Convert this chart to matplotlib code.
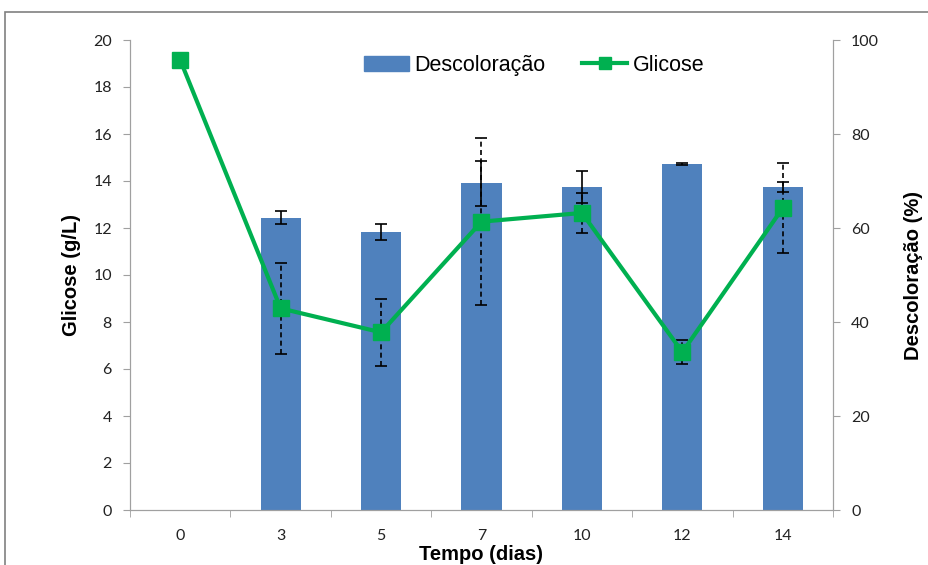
import numpy as np
import matplotlib.pyplot as plt
from matplotlib.patches import Rectangle
from matplotlib.lines import Line2D
from matplotlib.patches import Patch

dias = ["0", "3", "5", "7", "10", "12", "14"]
# Descoloração (%) - barras, eixo direito
descoloracao = [np.nan, 62.2, 59.2, 69.5, 68.7, 73.6, 68.7]
descoloracao_err = [0, 1.35, 1.7, 4.75, 3.4, 0.15, 1.05]
# Glicose (g/L) - linha, eixo esquerdo
glicose = [19.15, 8.58, 7.56, 12.27, 12.64, 6.72, 12.85]
glicose_err = [0, 1.94, 1.42, 3.55, 0.87, 0.52, 1.9]

blue = "#4f81bd"
green = "#00b050"
gray = "#a0a0a0"

fig = plt.figure(figsize=(9.29, 5.65), dpi=100)
ax = fig.add_axes([130 / 929, 1 - 510 / 565, 703 / 929, 470 / 565])
ax2 = ax.twinx()

x = np.arange(len(dias))

# barras
ax2.bar(x, descoloracao, width=0.4, color=blue, zorder=1)
ax2.errorbar(x[1:], descoloracao[1:], yerr=descoloracao_err[1:], fmt="none",
             ecolor="black", elinewidth=1.2, capsize=4, capthick=1.2, zorder=5)
ax2.set_ylim(0, 100)
ax2.set_yticks(range(0, 101, 20))

# linha
ax.set_zorder(ax2.get_zorder() + 1)
ax.patch.set_visible(False)
eb = ax.errorbar(x[1:], glicose[1:], yerr=glicose_err[1:], fmt="none",
                 ecolor="black", elinewidth=1.2, capsize=4, capthick=1.2, zorder=2)
for c in eb[2]:
    c.set_linestyle((0, (3, 2)))
ax.plot(x, glicose, color=green, lw=3, marker="s", ms=11, zorder=3)
ax.set_ylim(0, 20)
ax.set_yticks(range(0, 21, 2))
ax.set_xlim(-0.5, len(dias) - 0.5)
ax.set_xticks(x)
ax.set_xticklabels(dias)
ax.set_xticks(np.arange(-0.5, len(dias), 1), minor=True)
ax.tick_params(axis="x", which="major", length=0, pad=14)
ax.tick_params(axis="x", which="minor", length=5, color=gray, direction="out")

for a in (ax, ax2):
    for s in a.spines.values():
        s.set_color(gray)
    a.spines["top"].set_visible(False)
ax.tick_params(axis="y", length=5, color=gray, direction="out", pad=8)
ax2.tick_params(axis="y", length=5, color=gray, direction="out", pad=8)

for lab in ax.get_xticklabels() + ax.get_yticklabels() + ax2.get_yticklabels():
    lab.set_fontfamily("Lato")
    lab.set_fontsize(11.5)
    lab.set_color("#222222")

ax.set_xlabel("Tempo (dias)", fontsize=14.5, fontweight="bold",
              fontfamily="Liberation Sans", labelpad=1)
ax.set_ylabel("Glicose (g/L)", fontsize=14.5, fontweight="bold",
              fontfamily="Liberation Sans", labelpad=9)
ax2.set_ylabel("Descoloração (%)", fontsize=14.5, fontweight="bold",
               fontfamily="Liberation Sans", labelpad=18)

handles = [Patch(color=blue, label="Descoloração"),
           Line2D([], [], color=green, lw=3, marker="s", ms=8, label="Glicose")]
ax.legend(handles=handles, loc="upper center", bbox_to_anchor=(0.575, 1.01),
          ncol=2, frameon=False, handlelength=2.1, handletextpad=0.25,
          columnspacing=1.7, prop={"family": "Liberation Sans", "size": 15.5})

fig.patches.append(Rectangle((5 / 929, -0.1), 1.2, 1 - 12 / 565 + 0.1,
                             transform=fig.transFigure, fill=False,
                             edgecolor="#808080", lw=1.2))

fig.savefig("out.png", dpi=100)
